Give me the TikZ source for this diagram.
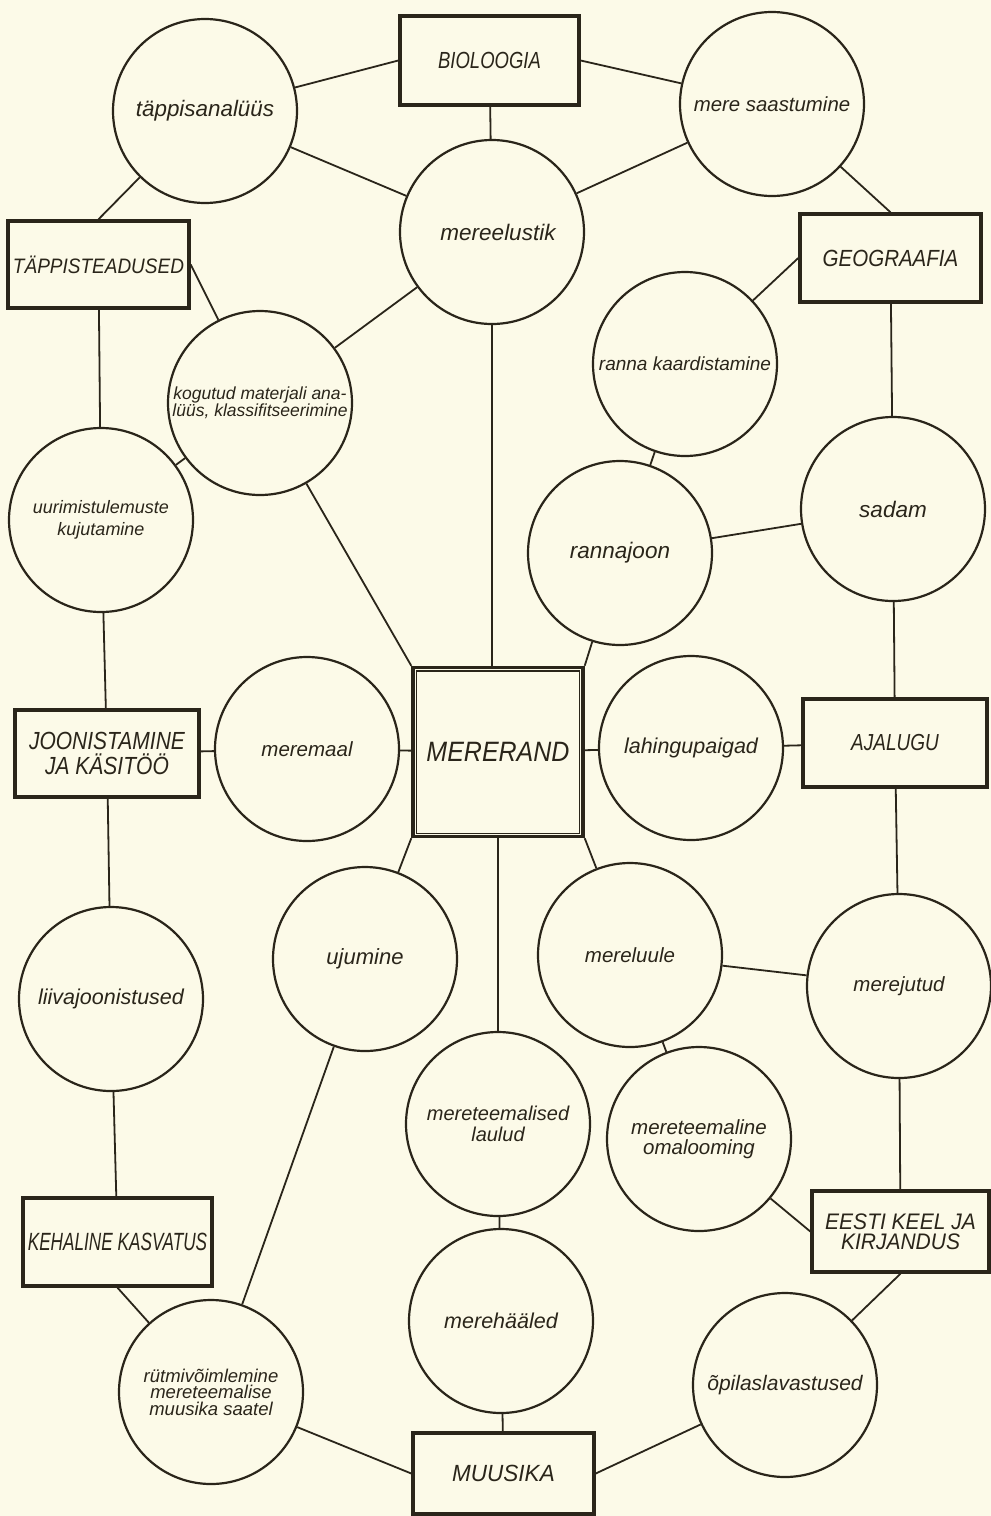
\documentclass[tikz,border=0pt]{standalone}
\usepackage{fontspec}
\usepackage{graphicx}
\setmainfont{Liberation Sans}
\definecolor{paper}{RGB}{252,250,232}
\definecolor{ink}{RGB}{42,37,26}
\newcommand\fsz[2]{\fontsize{#1}{#2}\selectfont\itshape}
\newcommand\vsc[2]{\scalebox{1}[#1]{#2}}
\tikzset{
  circ/.style={circle, draw=ink, line width=2.2pt, minimum size=184pt, inner sep=0pt,
               align=center, text=ink, font=\fsz{21}{23}},
  boxn/.style={rectangle, draw=ink, line width=3.4pt, inner sep=0pt,
               align=center, text=ink, font=\fsz{20}{22}},
  conn/.style={draw=ink, line width=1.8pt}
}
\begin{document}
\begin{tikzpicture}[x=1pt,y=-1pt]
\fill[paper] (0,0) rectangle (991,1516);
\useasboundingbox (0,0) rectangle (991,1516);

% boxes
\node[boxn, minimum width=179pt, minimum height=89pt, font=\fsz{18.5}{20}] (BIO) at (489.5,60.5) {\vsc{1.26}{BIOLOOGIA}};
\node[boxn, minimum width=181pt, minimum height=87pt, font=\fsz{19}{20}] (TAP) at (98.5,264.5) {\vsc{1.1}{TÄPPISTEADUSED}};
\node[boxn, minimum width=181pt, minimum height=88pt, font=\fsz{20.5}{22}] (GEO) at (890.5,258) {\vsc{1.14}{GEOGRAAFIA}};
\node[boxn, minimum width=184pt, minimum height=87pt, font=\fsz{21}{25}] (JOON) at (107,753.5) {\vsc{1.18}{JOONISTAMINE}\\\vsc{1.18}{JA KÄSITÖÖ}};
\node[boxn, minimum width=170pt, minimum height=169pt, line width=3.4pt, font=\fsz{25}{27}] (M) at (498,752) {\vsc{1.12}{MERERAND}};
\draw[ink, line width=1.4pt] ([shift={(5,5)}]M.north west) rectangle ([shift={(-5,-5)}]M.south east);
\node[boxn, minimum width=184pt, minimum height=88pt, font=\fsz{19}{21}] (AJ) at (895,743) {\vsc{1.22}{AJALUGU}};
\node[boxn, minimum width=189pt, minimum height=88pt, font=\fsz{17.2}{19}] (KEH) at (117.5,1242) {\vsc{1.45}{KEHALINE KASVATUS}};
\node[boxn, minimum width=177pt, minimum height=81pt, font=\fsz{21}{20.5}] (EE) at (900.5,1231.5) {\vsc{1.07}{EESTI KEEL JA}\\\vsc{1.07}{KIRJANDUS}};
\node[boxn, minimum width=181pt, minimum height=81pt, font=\fsz{22.5}{24}] (MU) at (503.5,1473.5) {\vsc{1.04}{MUUSIKA}};

% circles
\node[circ, font=\fsz{22.4}{24}] (tap) at (205,111) {täppisanalüüs};
\node[circ, font=\fsz{20.4}{22}] (saast) at (772,104) {mere saastumine};
\node[circ, font=\fsz{22.5}{24}] (elu) at (492,232) {\hspace*{12pt}mereelustik};
\node[circ, font=\fsz{17.5}{17}] (kog) at (260,403) {kogutud materjali ana-\\lüüs, klassifitseerimine};
\node[circ, font=\fsz{19}{21}] (ranna) at (685,364) {ranna kaardistamine};
\node[circ, font=\fsz{18}{22}] (uur) at (101,520) {uurimistulemuste\\kujutamine};
\node[circ, font=\fsz{22.5}{24}] (sadam) at (893,509) {sadam};
\node[circ, font=\fsz{22.5}{24}] (rjoon) at (620,553) {rannajoon};
\node[circ, font=\fsz{20.5}{22}] (meremaal) at (307,749) {meremaal};
\node[circ, font=\fsz{21.5}{23}] (lahing) at (691,748) {lahingupaigad};
\node[circ, font=\fsz{21.5}{23}] (liiva) at (111,999) {liivajoonistused};
\node[circ, font=\fsz{22}{24}] (uju) at (365,959) {ujumine};
\node[circ, font=\fsz{20.5}{22}] (luule) at (630,955) {mereluule};
\node[circ, font=\fsz{20.5}{22}] (jutud) at (899,986) {merejutud};
\node[circ, font=\fsz{20}{20.5}] (laulud) at (498,1124) {mereteemalised\\laulud};
\node[circ, font=\fsz{20.5}{19.5}] (omal) at (699,1139) {mereteemaline\\omalooming};
\node[circ, font=\fsz{21.5}{23}] (haaled) at (501,1321) {merehääled};
\node[circ, font=\fsz{18.5}{16.5}] (rytm) at (211,1392) {rütmivõimlemine\\mereteemalise\\muusika saatel};
\node[circ, font=\fsz{21}{23}] (opil) at (785,1385) {õpilaslavastused};

% connectors
\draw[conn] (tap) -- (BIO.west);
\draw[conn] (tap) -- (elu);
\draw[conn] (tap) -- (TAP.north);
\draw[conn] (BIO) -- (elu);
\draw[conn] (BIO.east) -- (saast);
\draw[conn] (elu) -- (saast);
\draw[conn] (saast) -- (GEO.north);
\draw[conn] (TAP.east) -- (kog);
\draw[conn] (elu) -- (kog);
\draw[conn] (elu.south) -- (elu.south |- M.north);
\draw[conn] (ranna) -- (GEO.west);
\draw[conn] (GEO) -- (sadam);
\draw[conn] (TAP) -- (uur);
\draw[conn] (kog) -- (uur);
\draw[conn] (kog) -- (M.north west);
\draw[conn] (ranna) -- (rjoon);
\draw[conn] (rjoon) -- (sadam);
\draw[conn] (rjoon) -- (M.north east);
\draw[conn] (sadam) -- (AJ);
\draw[conn] (uur) -- (JOON);
\draw[conn] (JOON) -- (meremaal);
\draw[conn] (meremaal) -- (M);
\draw[conn] (M) -- (lahing);
\draw[conn] (lahing) -- (AJ);
\draw[conn] (JOON) -- (liiva);
\draw[conn] (uju) -- (M.south west);
\draw[conn] (M) -- (laulud);
\draw[conn] (luule) -- (M.south east);
\draw[conn] (AJ) -- (jutud);
\draw[conn] (luule) -- (jutud);
\draw[conn] (luule) -- (omal);
\draw[conn] (jutud) -- (EE);
\draw[conn] (omal) -- (EE.west);
\draw[conn] (liiva) -- (KEH);
\draw[conn] (uju) -- (rytm);
\draw[conn] (laulud) -- (haaled);
\draw[conn] (rytm) -- (KEH.south);
\draw[conn] (opil) -- (EE.south);
\draw[conn] (haaled) -- (MU);
\draw[conn] (rytm) -- (MU.west);
\draw[conn] (opil) -- (MU.east);
\end{tikzpicture}
\end{document}
